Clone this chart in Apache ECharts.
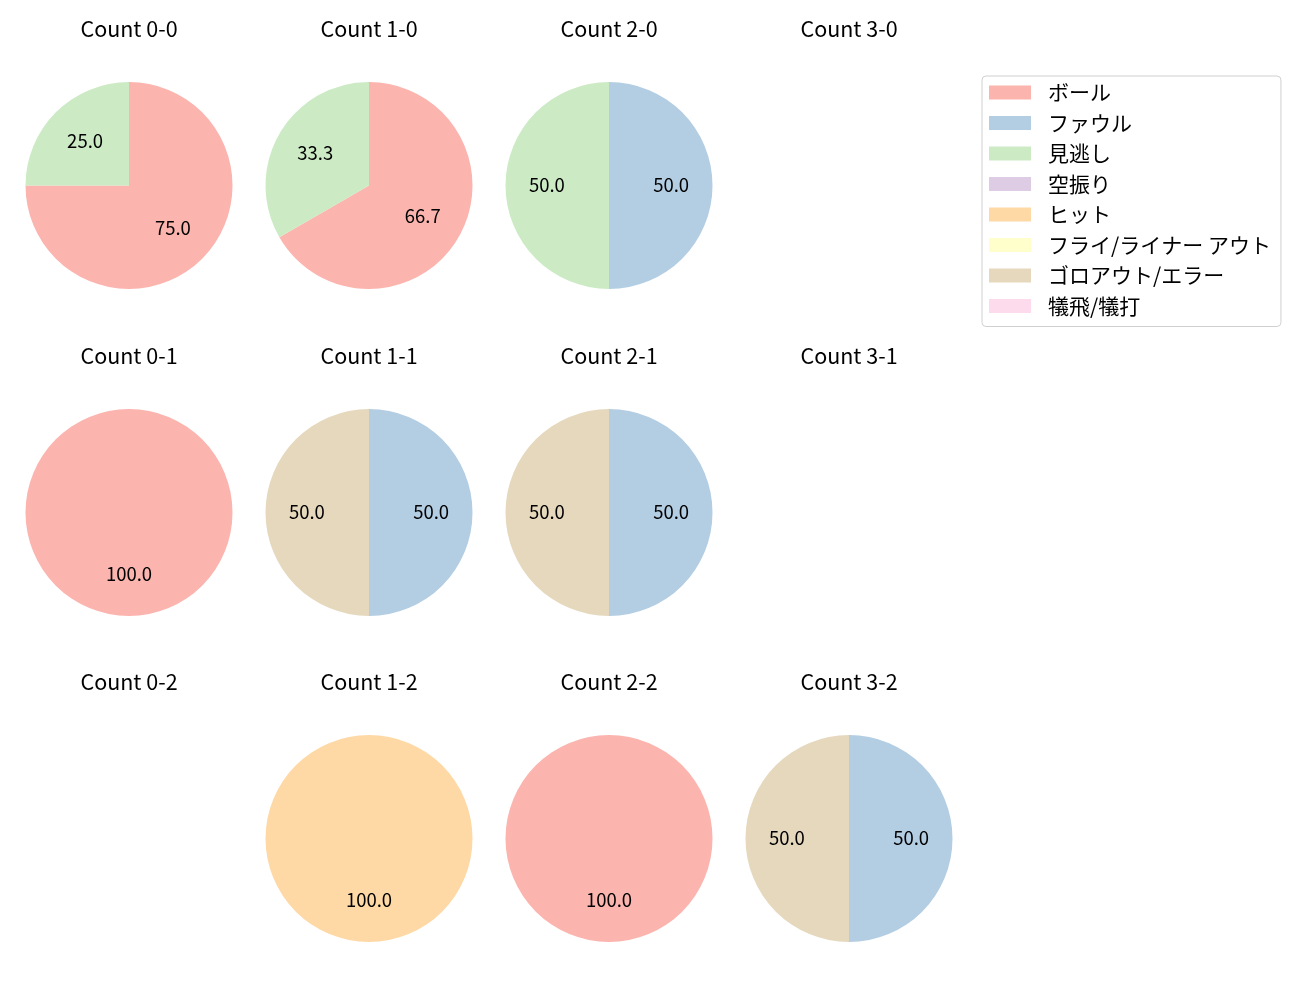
<!DOCTYPE html>
<html>
	<head>
		<meta charset="utf-8" />
		<title>カウント別</title>
		<script type="text/javascript" src="https://cdn.jsdelivr.net/npm/echarts@6/dist/echarts.min.js"></script>
	</head>
	<body style="margin:0;">
		<div id="main" style="width:1300px;height:1000px;"></div>
	</body>
	<script>
	// 結果の種類
	var categories = ['ボール', 'ファウル', '見逃し', '空振り', 'ヒット', 'フライ/ライナー アウト', 'ゴロアウト/エラー', '犠飛/犠打'];
	var colors = ['#fbb4ae', '#b3cde3', '#ccebc5', '#decbe4', '#fed9a6', '#ffffcc', '#e5d8bd', '#fddaec'];

	// カウント (左上から横に)
	var counts = ['0-0', '1-0', '2-0', '3-0', '0-1', '1-1', '2-1', '3-1', '0-2', '1-2', '2-2', '3-2'];
	// 各カウントの件数 (categories の順)
	var c00 = [3, 0, 1, 0, 0, 0, 0, 0];
	var c10 = [2, 0, 1, 0, 0, 0, 0, 0];
	var c20 = [0, 1, 1, 0, 0, 0, 0, 0];
	var c30 = [0, 0, 0, 0, 0, 0, 0, 0];
	var c01 = [1, 0, 0, 0, 0, 0, 0, 0];
	var c11 = [0, 1, 0, 0, 0, 0, 1, 0];
	var c21 = [0, 1, 0, 0, 0, 0, 1, 0];
	var c31 = [0, 0, 0, 0, 0, 0, 0, 0];
	var c02 = [0, 0, 0, 0, 0, 0, 0, 0];
	var c12 = [0, 0, 0, 0, 1, 0, 0, 0];
	var c22 = [1, 0, 0, 0, 0, 0, 0, 0];
	var c32 = [0, 1, 0, 0, 0, 0, 1, 0];
	var values = [c00, c10, c20, c30, c01, c11, c21, c31, c02, c12, c22, c32];

	var FONT = 'Noto Sans CJK JP';
	var colX = [129, 369, 609, 849];
	var rowY = [185.5, 512.5, 838.5];
	var titleY = [18, 345, 671];
	var R = 103.5;

	var dom = document.getElementById('main');
	var myChart = echarts.init(dom, null, {renderer: 'canvas'});

	var titles = [];
	var series = [];

	// 凡例用 (見えない)
	series.push({
		type: 'pie',
		radius: [0, 0],
		center: [-50, -50],
		silent: true,
		showEmptyCircle: false,
		label: {show: false},
		labelLine: {show: false},
		data: categories.map(function (c, i) {
			return {name: c, value: 0, itemStyle: {color: colors[i]}};
		})
	});

	counts.forEach(function (cnt, k) {
		var col = k % 4, row = Math.floor(k / 4);
		titles.push({
			text: 'Count ' + cnt,
			left: colX[col],
			top: titleY[row],
			textAlign: 'center',
			padding: 0,
			textStyle: {fontFamily: FONT, fontSize: 21.5, fontWeight: 'normal', color: '#000'}
		});
		var vals = values[k];
		var data = [];
		vals.forEach(function (v, i) {
			if (v > 0) data.push({name: categories[i], value: v, itemStyle: {color: colors[i]}});
		});
		if (!data.length) return;
		var total = vals.reduce(function (a, b) { return a + b; }, 0);
		// 塗り
		series.push({
			type: 'pie',
			center: [colX[col], rowY[row]],
			radius: [0, R],
			startAngle: 90,
			clockwise: true,
			silent: true,
			animation: false,
			label: {show: false},
			labelLine: {show: false},
			itemStyle: {borderWidth: 0},
			data: data
		});
		// ラベル (半径0.6あたり)
		series.push({
			type: 'pie',
			center: [colX[col], rowY[row] - 1],
			radius: [R * 0.2 - 6, R],
			startAngle: 90,
			clockwise: true,
			silent: true,
			animation: false,
			label: {
				show: true,
				position: 'inside',
				fontFamily: FONT,
				fontSize: 18.5,
				color: '#000',
				formatter: function (p) { return (p.value / total * 100).toFixed(1); }
			},
			labelLine: {show: false},
			data: data.map(function (d) {
				return {name: d.name, value: d.value, itemStyle: {color: 'rgba(0,0,0,0)', borderWidth: 0}};
			})
		});
	});

	var option = {
		animation: false,
		title: titles,
		legend: {
			orient: 'vertical',
			left: 982,
			top: 76,
			selectedMode: false,
			icon: 'rect',
			itemWidth: 42,
			itemHeight: 14,
			itemGap: 9.5,
			padding: [6, 10, 10, 7],
			borderColor: '#d0d0d0',
			borderWidth: 1,
			borderRadius: 4,
			textStyle: {fontFamily: FONT, fontSize: 21, color: '#000', padding: [0, 0, 0, 12], lineHeight: 21},
			data: categories
		},
		series: series
	};
	myChart.setOption(option);
	window.addEventListener('resize', myChart.resize);
	</script>
</html>
